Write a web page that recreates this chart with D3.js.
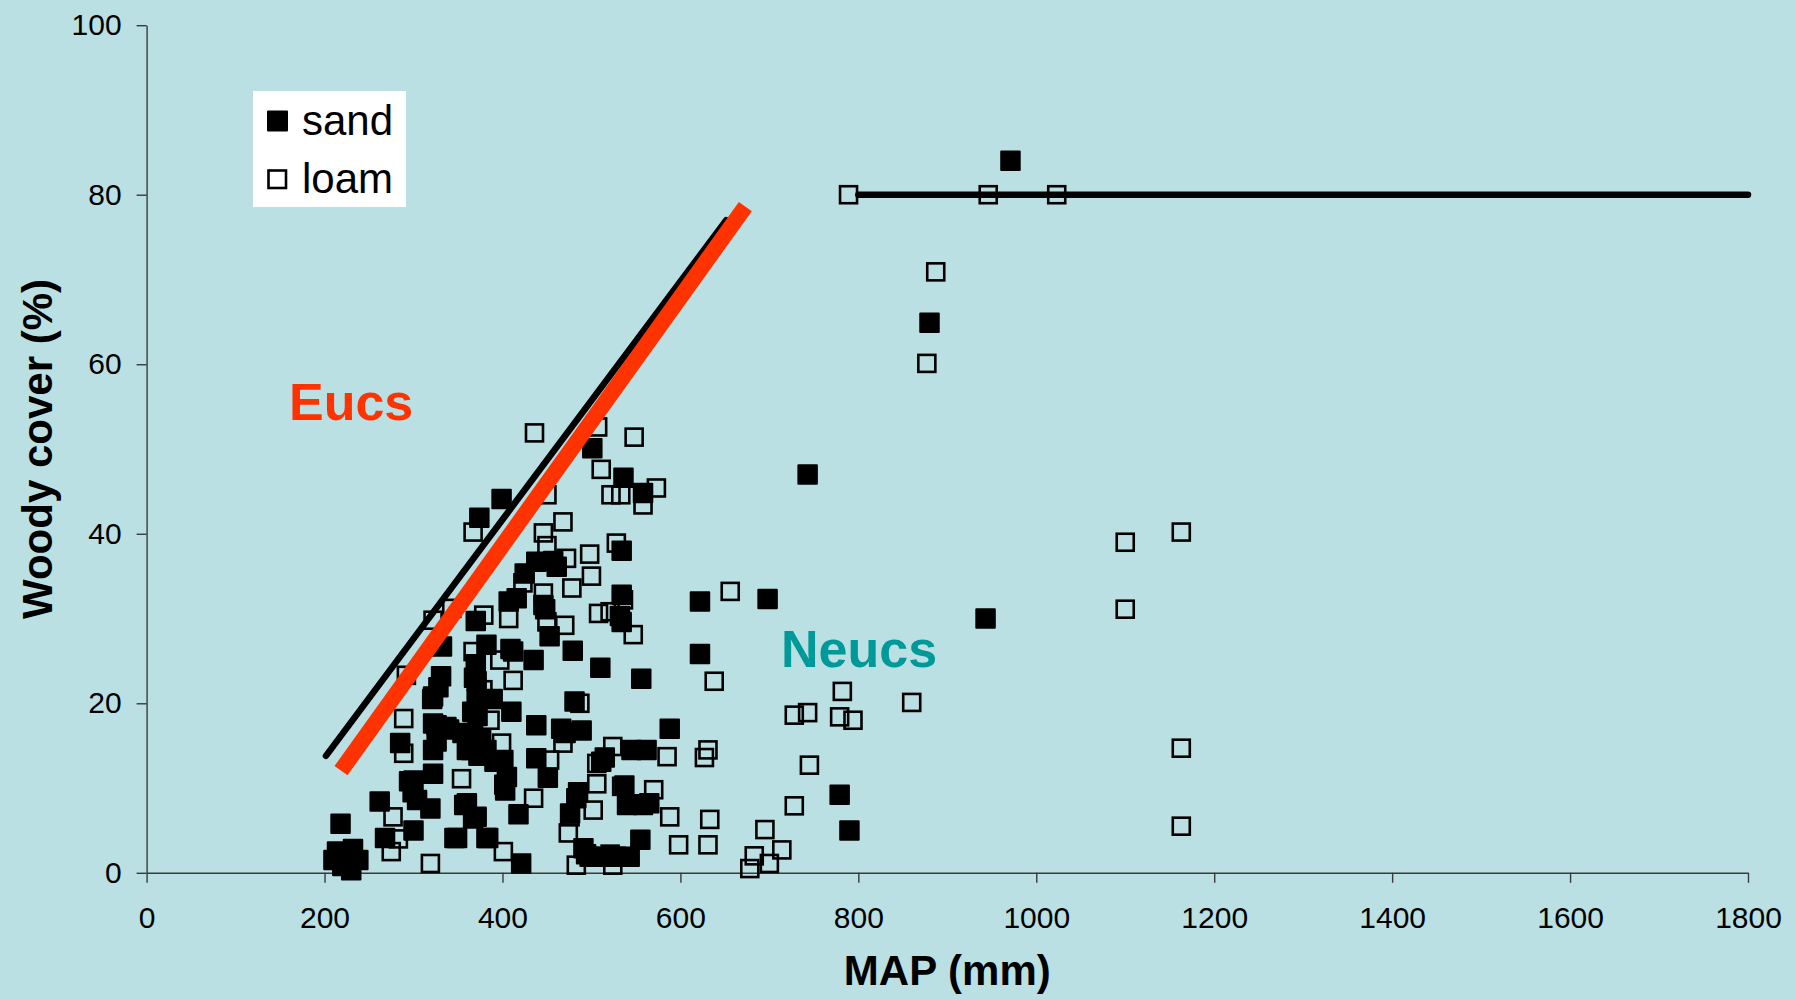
<!DOCTYPE html>
<html>
<head>
<meta charset="utf-8">
<script src="https://cdn.jsdelivr.net/npm/d3@7"></script>
<style>
  html, body { margin: 0; padding: 0; background: #bae0e3; }
  svg { display: block; font-family: "Liberation Sans", Arial, sans-serif; }
</style>
</head>
<body>
<div class="scatter_chart"></div>
<script>
// MAP (mm), woody cover (%)
const sandPoints = [
  [210, 1.5], [214, 2.5], [220, 0.8], [226, 2.0], [230, 0.3], [232, 2.8], [238, 1.5], [218, 5.8],
  [262, 8.4], [268, 4.1], [285, 15.3], [295, 10.8], [299, 9.5], [300, 5.0], [300, 10.9], [304, 8.6],
  [319, 7.6], [321, 20.5], [322, 11.7], [322, 14.5], [322, 17.6], [322, 20.8], [326, 15.5], [326, 17.4],
  [328, 21.9], [331, 23.2], [332, 26.7], [337, 17.2], [340, 16.9], [346, 4.1], [349, 4.1], [355, 16.5],
  [357, 8.0], [360, 8.2], [360, 14.5], [363, 15.4], [365, 14.5], [367, 16.5], [367, 6.4], [370, 29.7],
  [370, 24.6], [371, 22.6], [371, 20.5], [372, 18.5], [374, 41.9], [373, 13.8], [376, 15.8], [371, 6.6],
  [368, 23.0], [366, 19.0], [382, 4.1], [382, 26.9], [382, 14.5], [384, 4.1], [389, 20.5], [391, 13.1],
  [399, 44.1], [401, 13.3], [402, 10.4], [403, 9.7], [405, 11.3], [407, 32.0], [409, 26.4], [410, 19.0],
  [412, 26.1], [416, 32.4], [418, 6.9], [421, 1.1], [425, 35.3], [435, 25.1], [438, 36.7], [438, 17.4],
  [438, 13.5], [446, 31.6], [448, 31.1], [451, 11.2], [453, 27.9], [457, 36.8], [461, 36.1], [466, 17.0],
  [471, 16.5], [476, 7.0], [479, 26.2], [481, 20.2], [483, 8.8], [485, 9.5], [489, 16.8], [491, 2.9],
  [494, 2.2], [498, 1.9], [501, 50.1], [506, 1.9], [510, 24.2], [511, 13.1], [515, 13.6], [528, 1.9],
  [532, 30.3], [534, 29.6], [534, 32.8], [534, 38.0], [536, 46.6], [537, 10.3], [540, 8.0], [543, 1.9],
  [545, 14.5], [547, 8.1], [555, 3.9], [556, 22.9], [558, 44.8], [558, 8.0], [562, 14.5], [565, 8.2],
  [588, 17.0], [622, 32.0], [622, 25.8], [698, 32.3], [743, 47.0], [779, 9.2], [790, 5.0], [880, 64.9],
  [971, 84.0], [943, 30.0]
];

const loamPoints = [
  [436, 51.9], [507, 52.6], [548, 51.4], [511, 47.6], [573, 45.4], [522, 44.6], [533, 44.6], [558, 43.4],
  [450, 44.6], [468, 41.4], [446, 40.1], [367, 40.2], [450, 38.6], [528, 38.9], [472, 37.1], [498, 37.6],
  [500, 35.0], [478, 33.6], [423, 34.2], [446, 33.0], [536, 32.2], [508, 30.6], [521, 30.8], [450, 29.6],
  [470, 29.2], [547, 28.1], [407, 30.0], [379, 30.4], [322, 29.8], [343, 31.2], [367, 26.1], [397, 25.1],
  [412, 22.7], [292, 23.3], [289, 18.2], [378, 21.6], [399, 15.3], [386, 18.0], [487, 20.0], [468, 15.3],
  [453, 13.3], [524, 14.9], [585, 13.7], [506, 12.9], [570, 9.8], [588, 6.6], [534, 10.2], [506, 10.5],
  [502, 7.4], [476, 6.6], [474, 4.7], [483, 0.9], [524, 0.9], [521, 2.2], [598, 3.3], [354, 11.1],
  [435, 8.8], [401, 2.5], [319, 1.1], [277, 6.6], [275, 2.5], [283, 4.0], [289, 14.1], [656, 33.2],
  [638, 22.6], [782, 21.4], [860, 20.1], [728, 18.6], [743, 18.9], [779, 18.4], [794, 18.0], [631, 14.5],
  [627, 13.6], [745, 12.7], [728, 7.9], [633, 6.3], [631, 3.3], [695, 5.1], [714, 2.7], [683, 2.0],
  [678, 0.5], [700, 1.1], [789, 80.0], [946, 80.0], [1023, 80.0], [887, 70.9], [877, 60.1], [1100, 39.0],
  [1100, 31.1], [1163, 40.2], [1163, 14.7], [1163, 5.5]
];

// fitted / envelope lines
const eucsBlack = [[201.6, 13.8], [651.5, 77.0]];
const eucsRed = [[218.5, 12.05], [673, 78.6]];
const neucsCap = [[800, 80], [1800, 80]];

const xTicks = [0, 200, 400, 600, 800, 1000, 1200, 1400, 1600, 1800];
const yTicks = [0, 20, 40, 60, 80, 100];

const width = 1796;
const height = 1000;
const margin = { top: 25.2, right: 48, bottom: 127.2, left: 146.6 };
const innerW = width - margin.left - margin.right;
const innerH = height - margin.top - margin.bottom;

const svg = d3
  .select(".scatter_chart")
  .append("svg")
  .attr("width", width)
  .attr("height", height);

svg.append("rect").attr("width", width).attr("height", height).style("fill", "#bae0e3");

const g = svg.append("g").attr("transform", `translate(${margin.left}, ${margin.top})`);

const xScale = d3.scaleLinear().domain([0, 1800]).range([0, innerW]);
const yScale = d3.scaleLinear().domain([0, 100]).range([innerH, 0]);

const yAxis = d3.axisLeft(yScale).tickValues(yTicks).tickSize(10).tickSizeOuter(0).tickPadding(15)
  .tickFormat(d3.format("d"));
const xAxis = d3.axisBottom(xScale).tickValues(xTicks).tickSize(10).tickSizeOuter(0).tickPadding(24)
  .tickFormat(d3.format("d"));

const yG = g.append("g").call(yAxis);
const xG = g.append("g").attr("transform", `translate(0, ${innerH})`).call(xAxis);

[xG, yG].forEach(a => {
  a.select(".domain").style("stroke", "#3a3a3a").style("stroke-width", 1.4);
  a.selectAll(".tick line").style("stroke", "#3a3a3a").style("stroke-width", 1.4);
  a.selectAll("text")
    .style("font-family", "'Liberation Sans', Arial, sans-serif")
    .style("font-size", "30px")
    .style("fill", "#000");
});

// markers
const s = 18.5;
g.selectAll("rect.sand")
  .data(sandPoints)
  .enter()
  .append("rect")
  .attr("class", "sand")
  .attr("x", d => xScale(d[0]) - s / 2)
  .attr("y", d => yScale(d[1]) - s / 2)
  .attr("width", s)
  .attr("height", s)
  .style("fill", "#000")
  .style("stroke", "#000")
  .style("stroke-width", 2)
  .style("stroke-linejoin", "round");

const o = 17;
g.selectAll("rect.loam")
  .data(loamPoints)
  .enter()
  .append("rect")
  .attr("class", "loam")
  .attr("x", d => xScale(d[0]) - o / 2)
  .attr("y", d => yScale(d[1]) - o / 2)
  .attr("width", o)
  .attr("height", o)
  .style("fill", "none")
  .style("stroke", "#000")
  .style("stroke-width", 2.6);

const line = d3.line().x(d => xScale(d[0])).y(d => yScale(d[1]));

g.append("path").datum(eucsBlack).attr("d", line)
  .style("stroke", "#000").style("stroke-width", 6.5).style("stroke-linecap", "round").style("fill", "none");
g.append("path").datum(eucsRed).attr("d", line)
  .style("stroke", "#ff3300").style("stroke-width", 16).style("stroke-linecap", "butt").style("fill", "none");
g.append("path").datum(neucsCap).attr("d", line)
  .style("stroke", "#000").style("stroke-width", 6.5).style("stroke-linecap", "round").style("fill", "none");

// group labels
svg.append("text").attr("x", 289).attr("y", 420).text("Eucs")
  .style("font-size", "52px").style("font-weight", "bold").style("fill", "#ff3300");
svg.append("text").attr("x", 781).attr("y", 667).text("Neucs")
  .style("font-size", "52px").style("font-weight", "bold").style("fill", "#009999");

// axis titles
svg.append("text")
  .attr("x", margin.left + innerW / 2)
  .attr("y", 985)
  .attr("text-anchor", "middle")
  .text("MAP (mm)")
  .style("font-size", "42px").style("font-weight", "bold");
svg.append("text")
  .attr("transform", `translate(52, ${margin.top + innerH / 2}) rotate(-90)`)
  .attr("text-anchor", "middle")
  .text("Woody cover (%)")
  .style("font-size", "42px").style("font-weight", "bold");

// legend
const legend = svg.append("g");
legend.append("rect").attr("x", 253).attr("y", 91).attr("width", 153).attr("height", 116).style("fill", "#fff");
legend.append("rect").attr("x", 268).attr("y", 111.5).attr("width", 19).attr("height", 19)
  .style("fill", "#000").style("stroke", "#000").style("stroke-width", 2).style("stroke-linejoin", "round");
legend.append("rect").attr("x", 268.5).attr("y", 170.5).attr("width", 17.5).attr("height", 17.5)
  .style("fill", "none").style("stroke", "#000").style("stroke-width", 2.6);
legend.append("text").attr("x", 302).attr("y", 135).text("sand").style("font-size", "42px");
legend.append("text").attr("x", 302).attr("y", 193).text("loam").style("font-size", "42px");
</script>
</body>
</html>
